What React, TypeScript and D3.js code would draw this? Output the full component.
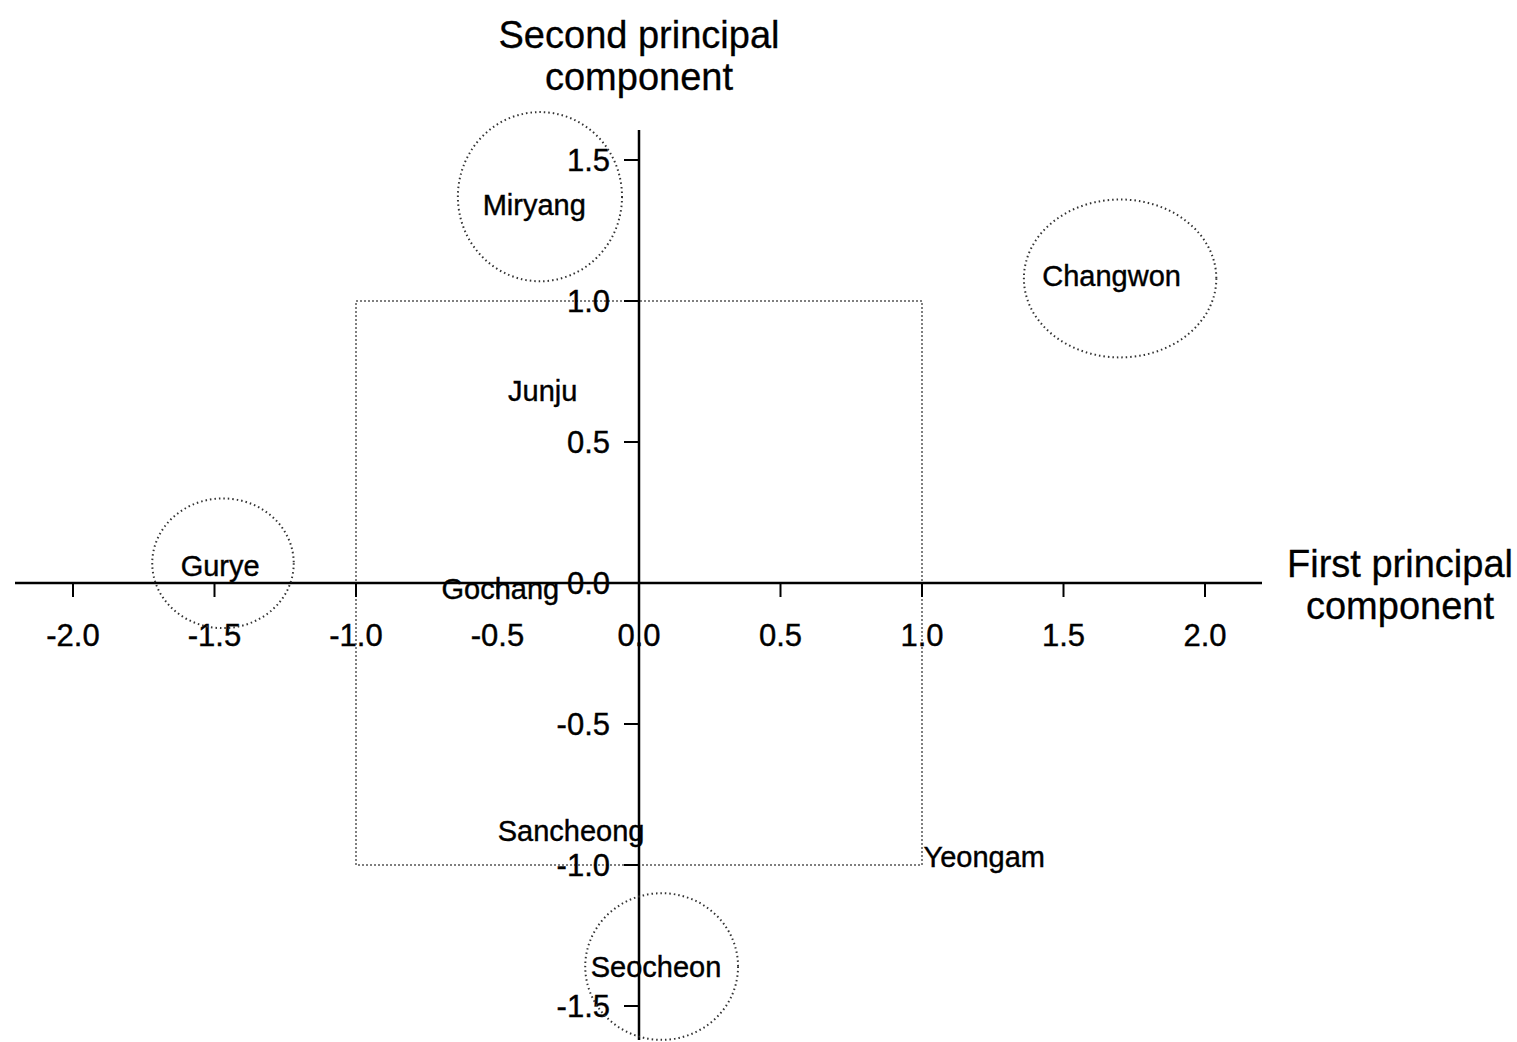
import * as d3 from "d3";

const WIDTH = 1517;
const HEIGHT = 1042;

// region scores (label centres)
const regions = ["Miryang", "Changwon", "Junju", "Gurye", "Gochang", "Sancheong", "Yeongam", "Seocheon"];
const pc1 = [-0.37, 1.67, -0.34, -1.48, -0.49, -0.24, 1.22, 0.06];
const pc2 = [1.34, 1.09, 0.68, 0.06, -0.02, -0.88, -0.97, -1.36];

// highlighted groups (dotted ellipses)
const circleCx = [-0.35, 1.7, -1.47, 0.08];
const circleCy = [1.37, 1.08, 0.07, -1.36];
const circleRx = [0.29, 0.34, 0.25, 0.27];
const circleRy = [0.3, 0.28, 0.23, 0.26];

const xTicks = [-2.0, -1.5, -1.0, -0.5, 0.0, 0.5, 1.0, 1.5, 2.0];
const yTicks = [-1.5, -1.0, -0.5, 0.0, 0.5, 1.0, 1.5];

const FONT = "Liberation Sans, Arial, sans-serif";

export default function App() {
  const x = d3.scaleLinear().domain([-2, 2]).range([73, 1205]);
  const y = d3.scaleLinear().domain([-1.5, 1.5]).range([1006, 160]);
  const x0 = x(0);
  const y0 = y(0);
  // plain hyphen for negatives, like the original
  const fmt = (v: number) => d3.format(".1f")(v).replace("\u2212", "-");

  return (
    <svg
      width={WIDTH}
      height={HEIGHT}
      style={{ position: "absolute", left: 0, top: 0, background: "white" }}
      fontFamily={FONT}
      fill="#000"
    >
      {/* dotted unit square */}
      <rect
        x={x(-1)}
        y={y(1)}
        width={x(1) - x(-1)}
        height={y(-1) - y(1)}
        fill="none"
        stroke="#555"
        strokeWidth={1.5}
        strokeDasharray="2,2"
      />

      {/* axes */}
      <line x1={15} x2={1262} y1={y0} y2={y0} stroke="#000" strokeWidth={2.5} />
      <line x1={x0} x2={x0} y1={130} y2={1040} stroke="#000" strokeWidth={2.5} />

      {xTicks.map((t) => (
        <g key={"x" + t}>
          <line x1={x(t)} x2={x(t)} y1={y0} y2={y0 + 14} stroke="#000" strokeWidth={2} />
          <text x={x(t)} y={y0 + 63} textAnchor="middle" fontSize={31} stroke="#000" strokeWidth={0.4}>
            {fmt(t)}
          </text>
        </g>
      ))}

      {yTicks.map((t) => (
        <g key={"y" + t}>
          <line x1={x0 - 15} x2={x0} y1={y(t)} y2={y(t)} stroke="#000" strokeWidth={2} />
          <text x={x0 - 29} y={y(t)} dy="0.36em" textAnchor="end" fontSize={31} stroke="#000" strokeWidth={0.4}>
            {fmt(t)}
          </text>
        </g>
      ))}

      {/* ellipses */}
      {circleCx.map((cx, i) => (
        <ellipse
          key={"c" + i}
          cx={x(cx)}
          cy={y(circleCy[i])}
          rx={x(circleRx[i]) - x(0)}
          ry={y(0) - y(circleRy[i])}
          fill="none"
          stroke="#333"
          strokeWidth={2}
          strokeDasharray="1.5,3"
        />
      ))}

      {/* region labels */}
      {regions.map((r, i) => (
        <text
          key={r}
          x={x(pc1[i])}
          y={y(pc2[i])}
          dy="0.35em"
          textAnchor="middle"
          fontSize={29}
          stroke="#000"
          strokeWidth={0.4}
        >
          {r}
        </text>
      ))}

      {/* axis titles */}
      <text x={x0} y={48} textAnchor="middle" fontSize={38} stroke="#000" strokeWidth={0.3}>
        Second principal
      </text>
      <text x={x0} y={90} textAnchor="middle" fontSize={38} stroke="#000" strokeWidth={0.3}>
        component
      </text>
      <text x={1400} y={577} textAnchor="middle" fontSize={38} stroke="#000" strokeWidth={0.3}>
        First principal
      </text>
      <text x={1400} y={619} textAnchor="middle" fontSize={38} stroke="#000" strokeWidth={0.3}>
        component
      </text>
    </svg>
  );
}
